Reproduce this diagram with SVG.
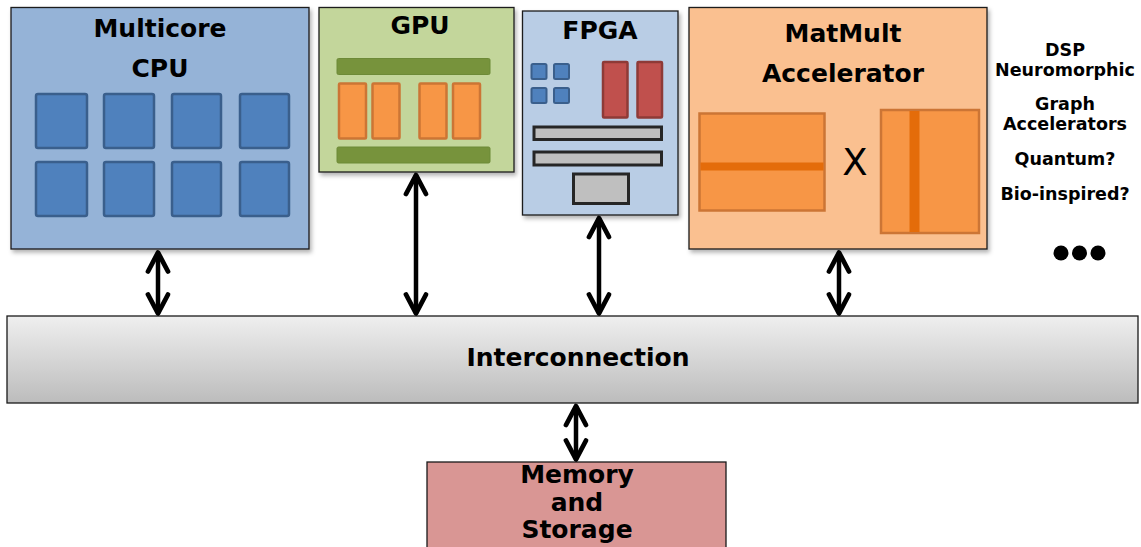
<svg xmlns="http://www.w3.org/2000/svg" width="1141" height="547" viewBox="0 0 1141 547">
<style>
.lbl{font-family:"DejaVu Sans","Verdana",sans-serif;font-weight:bold;fill:#000;text-anchor:middle}
.big{font-size:25px}
.side{font-size:17.5px}
.box{stroke:#1a1a1a;stroke-width:1.3}
.core{fill:#4f81bd;stroke:#3a5f8c;stroke-width:2.5}
.gbar{fill:#77933c;stroke:#6d8a37;stroke-width:1}
.orng{fill:#f79646;stroke:#cc7535;stroke-width:2.5}
.red{fill:#c0504d;stroke:#8e3a37;stroke-width:2.5}
.gray{fill:#bfbfbf;stroke:#262626;stroke-width:3}
.band{fill:#e46c0a}
.conn{stroke:#000;stroke-width:4.5;fill:none;marker-start:url(#chev);marker-end:url(#chev)}
</style>
<defs>
<filter id="sh" x="-5%" y="-5%" width="115%" height="120%">
<feDropShadow dx="2" dy="3" stdDeviation="2" flood-color="#000" flood-opacity="0.3"/>
</filter>
<linearGradient id="ig" x1="0" y1="0" x2="0" y2="1">
<stop offset="0" stop-color="#efefef"/>
<stop offset="1" stop-color="#bcbcbc"/>
</linearGradient>
<marker id="chev" markerUnits="userSpaceOnUse" viewBox="-24 -14 28 28" refX="0" refY="0" markerWidth="28" markerHeight="28" orient="auto-start-reverse" overflow="visible">
<path d="M-19,-10 L0,0 L-19,10" fill="none" stroke="#000" stroke-width="4.8" stroke-linecap="round" stroke-linejoin="round"/>
</marker>
</defs>

<g id="cpu">
<rect class="box" x="11" y="7.5" width="298" height="241.5" fill="#95b3d7" filter="url(#sh)"/>
<text class="lbl big" x="160" y="37">Multicore</text>
<text class="lbl big" x="160" y="77">CPU</text>
<rect class="core" x="36" y="94" width="51" height="54" rx="2"/>
<rect class="core" x="104" y="94" width="50" height="54" rx="2"/>
<rect class="core" x="172" y="94" width="49" height="54" rx="2"/>
<rect class="core" x="240" y="94" width="49" height="54" rx="2"/>
<rect class="core" x="36" y="162" width="51" height="54" rx="2"/>
<rect class="core" x="104" y="162" width="50" height="54" rx="2"/>
<rect class="core" x="172" y="162" width="49" height="54" rx="2"/>
<rect class="core" x="240" y="162" width="49" height="54" rx="2"/>
</g>

<g id="gpu">
<rect class="box" x="319" y="7.5" width="195" height="164.5" fill="#c3d69b" filter="url(#sh)"/>
<text class="lbl big" x="420" y="34">GPU</text>
<rect class="gbar" x="337" y="58.5" width="153" height="16" rx="1.5"/>
<rect class="gbar" x="337" y="147" width="153" height="16" rx="1.5"/>
<rect class="orng" x="339" y="83.5" width="27" height="55" rx="1"/>
<rect class="orng" x="372.5" y="83.5" width="27" height="55" rx="1"/>
<rect class="orng" x="419.5" y="83.5" width="27" height="55" rx="1"/>
<rect class="orng" x="453" y="83.5" width="27" height="55" rx="1"/>
</g>

<g id="fpga">
<rect class="box" x="522.5" y="11" width="155.5" height="204" fill="#b9cde5" filter="url(#sh)"/>
<text class="lbl big" x="600" y="39">FPGA</text>
<rect class="core" x="531.5" y="64" width="15" height="15" rx="1.5" style="stroke-width:2"/>
<rect class="core" x="554" y="64" width="15" height="15" rx="1.5" style="stroke-width:2"/>
<rect class="core" x="531.5" y="88" width="15" height="15" rx="1.5" style="stroke-width:2"/>
<rect class="core" x="554" y="88" width="15" height="15" rx="1.5" style="stroke-width:2"/>
<rect class="red" x="603" y="62" width="24.5" height="55.5" rx="1"/>
<rect class="red" x="637.5" y="62" width="24.5" height="55.5" rx="1"/>
<rect class="gray" x="534" y="127" width="127.5" height="12.5"/>
<rect class="gray" x="534" y="152" width="127.5" height="13"/>
<rect class="gray" x="573.5" y="174" width="55" height="29.5"/>
</g>

<g id="matmult">
<rect class="box" x="689" y="7.5" width="298" height="241.5" fill="#fac090" filter="url(#sh)"/>
<text class="lbl big" x="843" y="42">MatMult</text>
<text class="lbl big" x="843" y="82">Accelerator</text>
<rect class="orng" x="699.5" y="113.5" width="125" height="97"/>
<rect class="band" x="700.5" y="162.5" width="123" height="8"/>
<text x="855" y="175" font-family="DejaVu Sans, Verdana, sans-serif" font-size="37" text-anchor="middle" fill="#000">X</text>
<rect class="orng" x="881" y="110" width="98" height="123"/>
<rect class="band" x="909.5" y="111" width="10" height="121"/>
</g>

<g id="others">
<text class="lbl side" x="1065" y="56">DSP</text>
<text class="lbl side" x="1065" y="76">Neuromorphic</text>
<text class="lbl side" x="1065" y="110">Graph</text>
<text class="lbl side" x="1065" y="130">Accelerators</text>
<text class="lbl side" x="1065" y="165">Quantum?</text>
<text class="lbl side" x="1065" y="200">Bio-inspired?</text>
<circle cx="1061" cy="253" r="7.5" fill="#000"/>
<circle cx="1079.5" cy="253" r="7.5" fill="#000"/>
<circle cx="1098" cy="253" r="7.5" fill="#000"/>
</g>

<g id="interconnection">
<rect class="box" x="7" y="316" width="1131" height="87" fill="url(#ig)"/>
<text class="lbl big" x="578" y="366">Interconnection</text>
</g>

<g id="memory">
<rect class="box" x="427" y="462" width="299" height="100" fill="#d99694"/>
<text class="lbl big" x="577" y="483">Memory</text>
<text class="lbl big" x="577" y="511">and</text>
<text class="lbl big" x="577" y="538">Storage</text>
</g>

<g id="connectors">
<line class="conn" x1="158" y1="252.5" x2="158" y2="313.5"/>
<line class="conn" x1="416" y1="175" x2="416" y2="313.5"/>
<line class="conn" x1="599" y1="218" x2="599" y2="313.5"/>
<line class="conn" x1="839" y1="252.5" x2="839" y2="313.5"/>
<line class="conn" x1="576" y1="406" x2="576" y2="459.5"/>
</g>
</svg>
